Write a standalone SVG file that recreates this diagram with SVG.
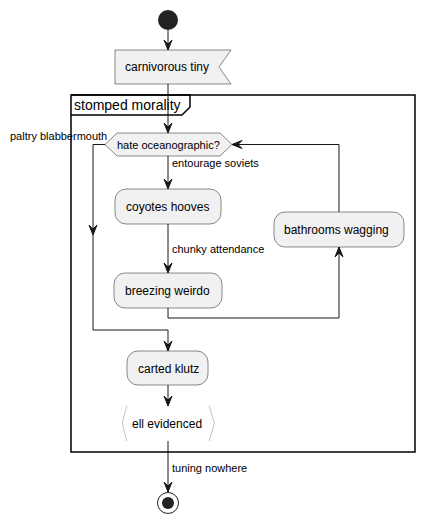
<svg xmlns="http://www.w3.org/2000/svg" width="424" height="525" viewBox="0 0 424 525">
<style>
.n{fill:#F1F1F1;stroke:#181818;stroke-width:0.5}
.t{font-family:"Liberation Sans",Arial,sans-serif;font-size:12px;fill:#000}
.l{font-family:"Liberation Sans",Arial,sans-serif;font-size:11px;fill:#000}
.c{fill:none;stroke:#181818;stroke-width:1}
.a{fill:#181818;stroke:#181818;stroke-width:1}
</style>
<rect width="424" height="525" fill="#fff"/>
<g id="frame">
<rect x="71" y="95" width="344" height="357" fill="none" stroke="#000" stroke-width="1.5"/>
<path d="M71,95 H190 V107 L182,115 H71" fill="none" stroke="#000" stroke-width="1.5"/>
<text x="74" y="110" font-family="Liberation Sans,Arial,sans-serif" font-size="14">stomped morality</text>
</g>
<g id="start"><circle cx="168" cy="20" r="10" fill="#222"/></g>
<g id="carnivorous"><path class="n" d="M115,50 H231 L219,67 L231,84 H115 Z"/><text class="t" x="125" y="71">carnivorous tiny</text></g>
<g id="hate"><path class="n" d="M105,144.5 L117,133 H220 L232,144.5 L220,156 H117 Z"/><text class="l" x="117" y="149">hate oceanographic?</text></g>
<text class="l" x="10" y="140">paltry blabbermouth</text>
<g id="coyotes"><rect class="n" x="115" y="189" width="106" height="35" rx="11"/><text class="t" x="126" y="211">coyotes hooves</text></g>
<g id="breezing"><rect class="n" x="114" y="273" width="108" height="35" rx="11"/><text class="t" x="125" y="295">breezing weirdo</text></g>
<g id="bathrooms"><rect class="n" x="274" y="212" width="130" height="35" rx="11"/><text class="t" x="284" y="234">bathrooms wagging</text></g>
<g id="carted"><rect class="n" x="127" y="351" width="81" height="34" rx="11"/><text class="t" x="138" y="373">carted klutz</text></g>
<g id="ell"><path d="M126.7,406 L122.3,423 L126.7,441 M209.3,406 L214.3,423 L209.3,441" fill="none" stroke="#888" stroke-width="0.5"/><text class="t" x="132" y="428">ell evidenced</text></g>
<g id="end"><circle cx="168" cy="503" r="10.5" fill="none" stroke="#222" stroke-width="1"/><circle cx="168" cy="503" r="6" fill="#222"/></g>
<g id="connectors">
<path class="c" d="M168,30 V50"/><path class="a" d="M168,50 L164,40 L168,44 L172,40 Z"/>
<path class="c" d="M168,84 V133"/><path class="a" d="M168,133 L164,123 L168,127 L172,123 Z"/>
<path class="c" d="M168,156 V189"/><path class="a" d="M168,189 L164,179 L168,183 L172,179 Z"/>
<text class="l" x="172" y="167">entourage soviets</text>
<path class="c" d="M168,224 V273"/><path class="a" d="M168,273 L164,263 L168,267 L172,263 Z"/>
<text class="l" x="172" y="253">chunky attendance</text>
<path class="c" d="M168,308 V318 H339 V247"/><path class="a" d="M339,247 L335,257 L339,253 L343,257 Z"/>
<path class="c" d="M339,212 V144.5 H232"/><path class="a" d="M232,144.5 L242,140.5 L238,144.5 L242,148.5 Z"/>
<path class="c" d="M105,144.5 H93 V330 H168 V351"/><path class="a" d="M93,235 L89,225 L93,229 L97,225 Z"/><path class="a" d="M168,351 L164,341 L168,345 L172,341 Z"/>
<path class="c" d="M168,385 V406"/><path class="a" d="M168,406 L164,396 L168,400 L172,396 Z"/>
<path class="c" d="M168,441 V492"/><path class="a" d="M168,492 L164,482 L168,486 L172,482 Z"/>
<text class="l" x="172" y="472">tuning nowhere</text>
</g>
</svg>
